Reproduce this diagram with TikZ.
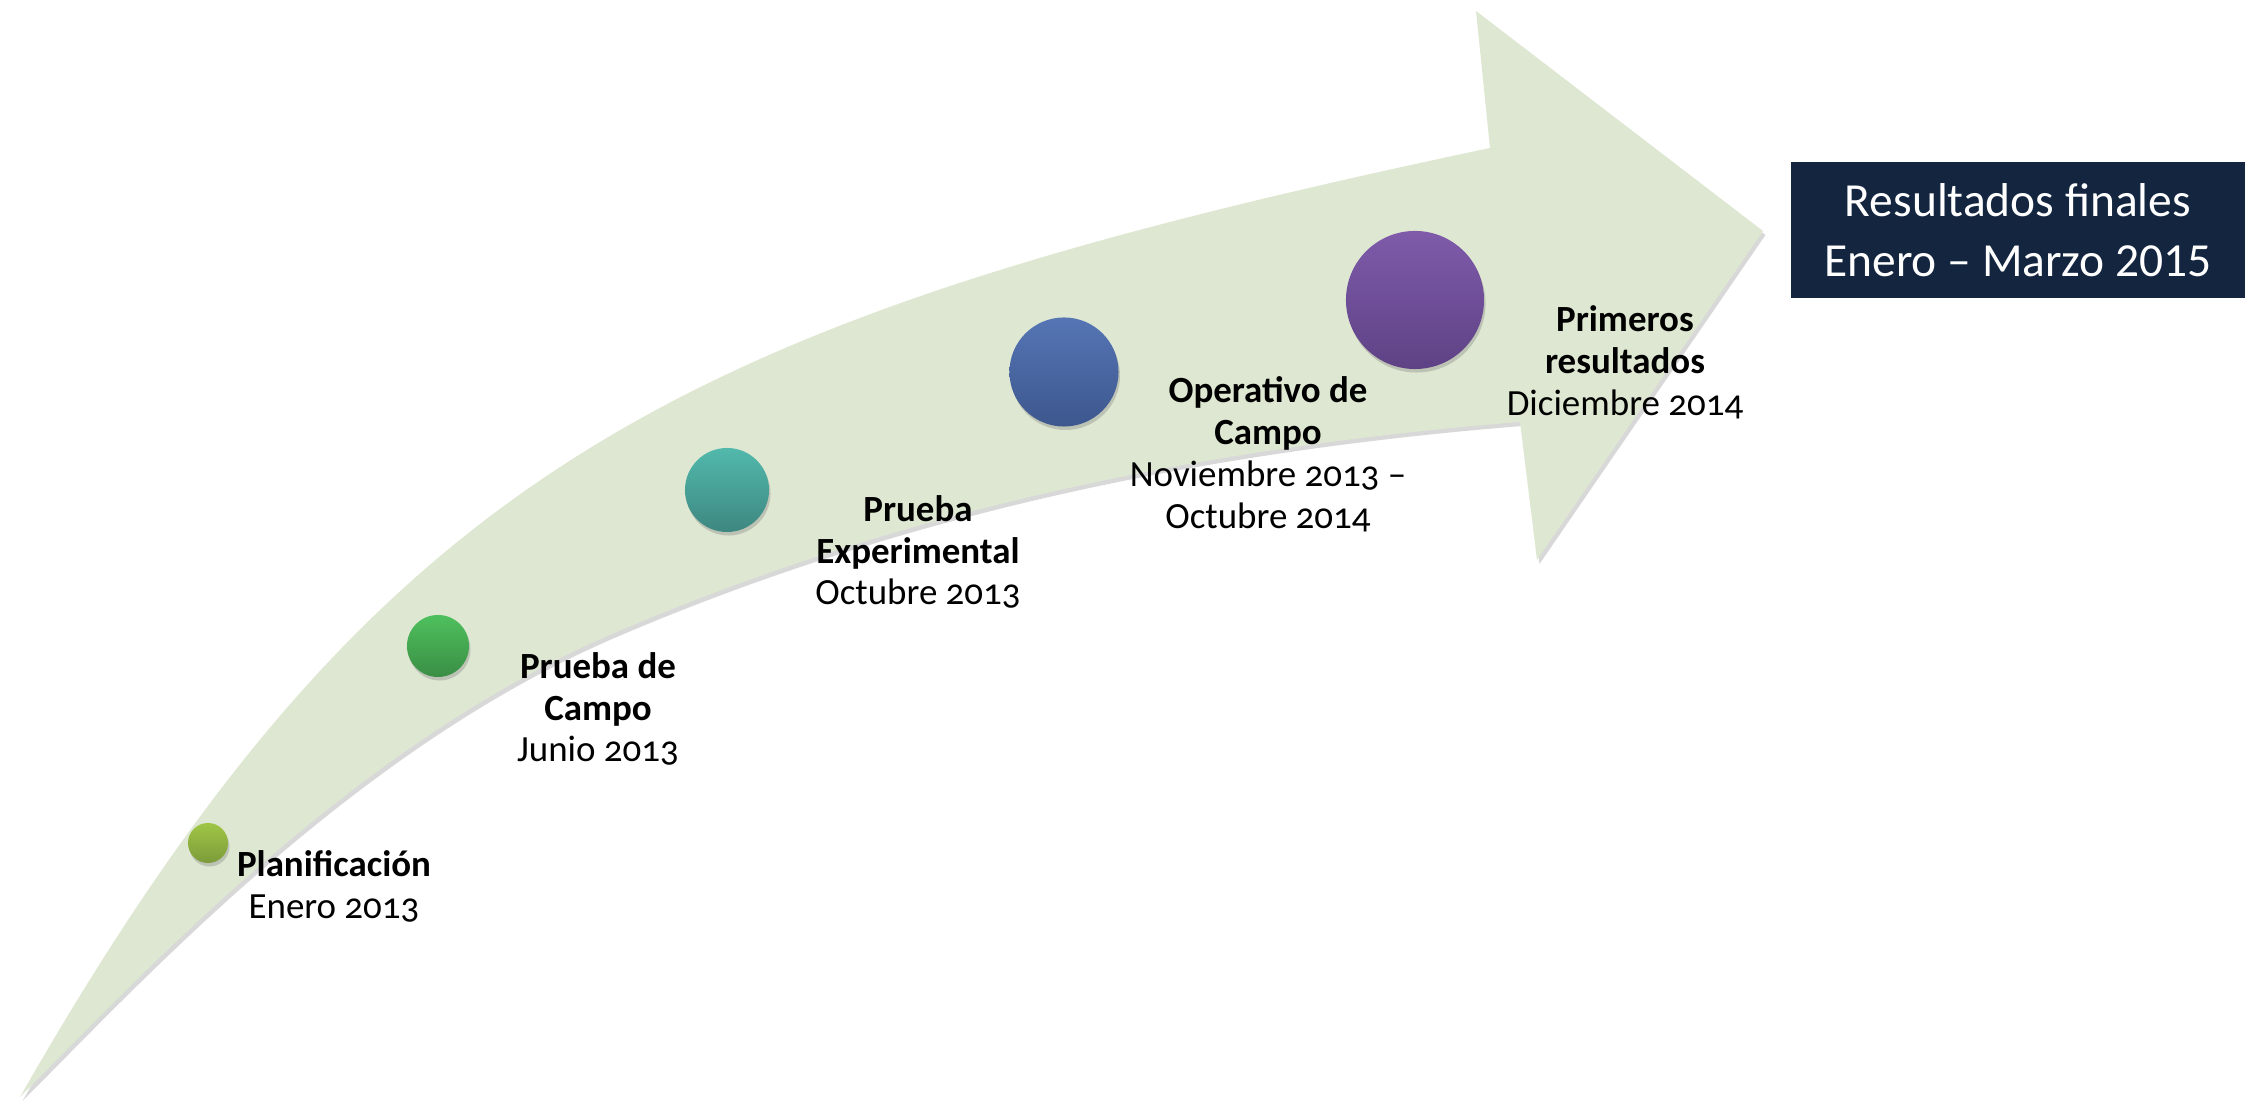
\documentclass[tikz,border=0pt]{standalone}
\usepackage{fontspec}
\setmainfont{Carlito}[Numbers=OldStyle]
\newfontfamily\cajafont{Carlito}[Numbers=Lining]
\usepackage{xcolor}
\usetikzlibrary{shadows}

\definecolor{flecha}{HTML}{DEE7D1}
\definecolor{planifA}{HTML}{A0C646}
\definecolor{planifB}{HTML}{7B9B39}
\definecolor{pcampoA}{HTML}{4EC05D}
\definecolor{pcampoB}{HTML}{3A8E45}
\definecolor{pexpA}{HTML}{52B9AC}
\definecolor{pexpB}{HTML}{3D8780}
\definecolor{opcampoA}{HTML}{5575B4}
\definecolor{opcampoB}{HTML}{3D578E}
\definecolor{primresA}{HTML}{7F5BAA}
\definecolor{primresB}{HTML}{5E4285}
\definecolor{marino}{HTML}{13253F}

\begin{document}
\begin{tikzpicture}[x=0.01cm, y=-0.01cm,
  hito/.style={circle, inner sep=0pt,
    drop shadow={opacity=0.35, shadow xshift=0.015cm, shadow yshift=-0.035cm}},
  etiqueta/.style={align=center, font=\fontsize{10.5}{11.9}\selectfont}]
  \useasboundingbox (0,0) rectangle (2259,1104);

  % Arrow shadow
  \fill[black!30, opacity=0.5, xshift=0.025cm, yshift=-0.04cm]
    (20,1097) .. controls (380,467) and (680,319) .. (1490,148) --
    (1476,11) -- (1763,231) -- (1537,560) -- (1520,422)
    .. controls (1220,446) and (912,505) .. (612,634)
    .. controls (352,746) and (140,977) .. (20,1097) -- cycle;

  % Arrow
  \fill[flecha]
    (20,1097) .. controls (380,467) and (680,319) .. (1490,148) --
    (1476,11) -- (1763,231) -- (1537,560) -- (1520,422)
    .. controls (1220,446) and (912,505) .. (612,634)
    .. controls (352,746) and (140,977) .. (20,1097) -- cycle;

  % Milestones
  \node[hito, minimum size=0.40cm, top color=planifA,   bottom color=planifB]   (planif)   at (208,843)  {};
  \node[hito, minimum size=0.62cm, top color=pcampoA,   bottom color=pcampoB]   (pcampo)   at (438,646)  {};
  \node[hito, minimum size=0.84cm, top color=pexpA,     bottom color=pexpB]     (pexp)     at (727,490)  {};
  \node[hito, minimum size=1.09cm, top color=opcampoA,  bottom color=opcampoB]  (opcampo)  at (1064,372) {};
  \node[hito, minimum size=1.38cm, top color=primresA,  bottom color=primresB]  (primres)  at (1415,300) {};

  % Labels
  \node[etiqueta] (tplanif) at (334,886)
    {\textbf{Planificación}\\Enero 2013};
  \node[etiqueta] (tpcampo) at (598,709)
    {\textbf{Prueba de}\\\textbf{Campo}\\Junio 2013};
  \node[etiqueta] (tpexp) at (918,552)
    {\textbf{Prueba}\\\textbf{Experimental}\\Octubre 2013};
  \node[etiqueta] (topcampo) at (1268,454)
    {\textbf{Operativo de}\\\textbf{Campo}\\Noviembre 2013 –\\Octubre 2014};
  \node[etiqueta] (tprimres) at (1625,362)
    {\textbf{Primeros}\\\textbf{resultados}\\Diciembre 2014};

  % Final box
  \node[fill=marino, text=white, minimum width=4.53cm, minimum height=1.35cm,
        align=center, font=\cajafont\fontsize{13.5}{17}\selectfont] (final) at (2018,230)
    {Resultados finales\\Enero – Marzo 2015};
\end{tikzpicture}
\end{document}
